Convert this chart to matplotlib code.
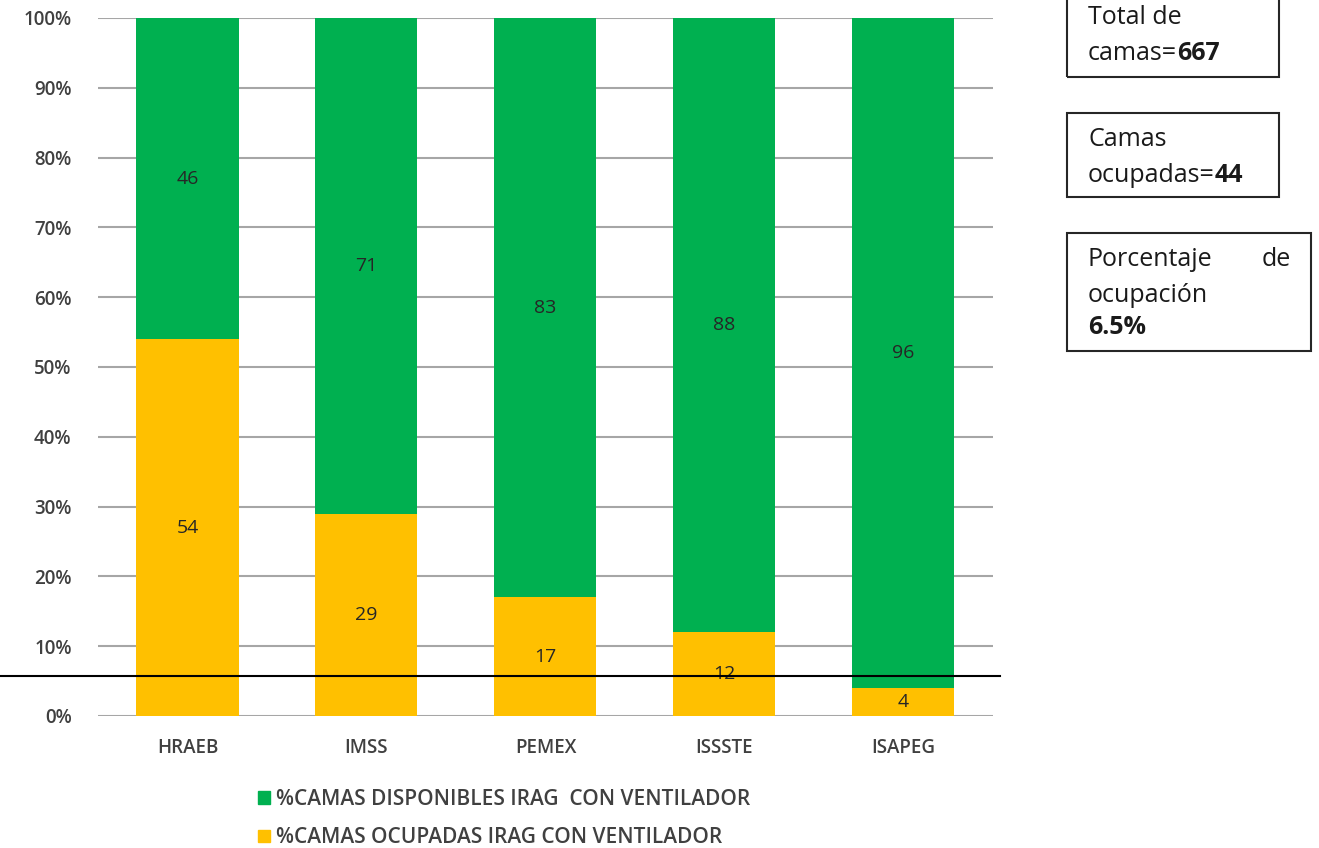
import matplotlib
matplotlib.use("Agg")
import matplotlib.pyplot as plt
from matplotlib.patches import Rectangle, Patch
from matplotlib.ticker import PercentFormatter

# data
instituciones = ["HRAEB", "IMSS", "PEMEX", "ISSSTE", "ISAPEG"]
ocupadas = [54, 29, 17, 12, 4]
disponibles = [46, 71, 83, 88, 96]
linea_ref = 5.7
total_camas = 667
camas_ocupadas = 44
porcentaje = "6.5%"

verde = "#00B050"
amarillo = "#FFC000"
gris = "#404040"

plt.rcParams['font.family'] = ['Open Sans', 'DejaVu Sans']

fig = plt.figure(figsize=(13.19, 8.48), dpi=100)
ax = fig.add_axes([0.0743, 0.1557, 0.6785, 0.8231])

x = range(len(instituciones))
ax.bar(x, ocupadas, width=0.57, color=amarillo, zorder=3)
ax.bar(x, disponibles, width=0.57, bottom=ocupadas, color=verde, zorder=3)

for i in x:
    ax.text(i, ocupadas[i] / 2, str(ocupadas[i]), ha='center', va='center',
            fontsize=14, color='#262626', zorder=4)
    ax.text(i, ocupadas[i] + disponibles[i] / 2, str(disponibles[i]), ha='center',
            va='center', fontsize=14, color='#262626', zorder=4)

ax.axhline(linea_ref, xmin=-0.11, xmax=1.008, color='black', lw=1.5,
           clip_on=False, zorder=5)

ax.set_xlim(-0.5, 4.5)
ax.set_ylim(0, 100)
ax.set_yticks(range(0, 101, 10))
ax.yaxis.set_major_formatter(PercentFormatter(decimals=0))
ax.set_xticks(list(x))
ax.set_xticklabels(instituciones)
ax.grid(axis='y', color='#A6A6A6', lw=1.5, zorder=0)
for s in ax.spines.values():
    s.set_visible(False)
ax.tick_params(axis='both', length=0, colors=gris, labelsize=13.5)
for lbl in ax.get_xticklabels() + ax.get_yticklabels():
    lbl.set_fontweight('semibold')
ax.tick_params(axis='y', pad=19)
ax.tick_params(axis='x', pad=16)

handles = [Patch(color=verde), Patch(color=amarillo)]
labels = ["%CAMAS DISPONIBLES IRAG  CON VENTILADOR",
          "%CAMAS OCUPADAS IRAG CON VENTILADOR"]
leg = fig.legend(handles, labels, loc='upper left', bbox_to_anchor=(0.1815, 0.092),
                 frameon=False,
                 prop={'size': 15, 'weight': 'semibold'}, labelcolor=gris,
                 handlelength=0.55, handleheight=0.55, handletextpad=0.3,
                 labelspacing=0.85)

# cuadros de texto a la derecha
cajas = [(0.809, 0.909, 0.1607, 0.10), (0.809, 0.7677, 0.1607, 0.099),
         (0.809, 0.586, 0.185, 0.139)]
for bx, by, bw, bh in cajas:
    fig.add_artist(Rectangle((bx, by), bw, bh, transform=fig.transFigure,
                             fill=False, ec='#262626', lw=1.5, clip_on=False))

tx = 1088 / 1319
fs = 18
lineas = [
    (18, "Total de", None),
    (53, "camas=", str(total_camas)),
    (140, "Camas", None),
    (176, "ocupadas=", str(camas_ocupadas)),
    (260, "Porcentaje", None),
    (295, "ocupación", None),
]
fig.canvas.draw()
r = fig.canvas.get_renderer()
for ypx, normal, negrita in lineas:
    yf = 1 - ypx / 848
    t = fig.text(tx, yf, normal, fontsize=fs, va='center', ha='left', color='#1a1a1a')
    if negrita:
        bb = t.get_window_extent(renderer=r)
        fig.text(bb.x1 / fig.bbox.width, yf, negrita, fontsize=fs, va='center',
                 ha='left', fontweight='bold', color='#1a1a1a')
fig.text(1291 / 1319, 1 - 260 / 848, "de", fontsize=fs, va='center', ha='right',
         color='#1a1a1a')
fig.text(tx, 1 - 327 / 848, porcentaje, fontsize=fs, va='center', ha='left',
         fontweight='bold', color='#1a1a1a')

fig.savefig("out.png", dpi=100)
